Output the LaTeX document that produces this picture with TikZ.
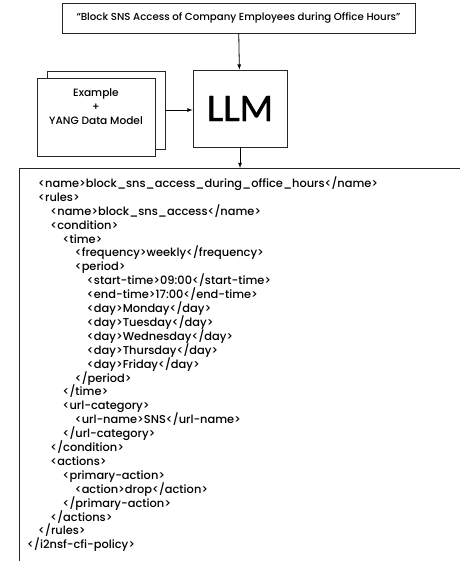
\documentclass[tikz,border=0pt]{standalone}
\usepackage{fontspec}
\setmainfont{Poppins Medium}
\newfontfamily\llmfont{Carlito}[FakeBold=1.2]
\usetikzlibrary{shapes,arrows,positioning}
\tikzstyle{box}=[rectangle,draw=black!85,line width=0.8pt,fill=white,inner sep=0pt]
\tikzstyle{doc}=[box,minimum width=118pt,minimum height=78pt]
\tikzstyle{arr}=[-latex,line width=0.8pt]
\tikzstyle{xml}=[anchor=north west,align=left,inner sep=0pt,font=\fontsize{11.4}{13.9}\selectfont]
\newcommand{\ind}[1]{\hspace*{#1\dimexpr 12.2pt\relax}}

\begin{document}
\begin{tikzpicture}[x=1pt,y=-1pt]
\useasboundingbox (0,0) rectangle (459,561);
% request and model
\node[box,minimum width=353pt,minimum height=30pt,font=\fontsize{10.2}{11}\selectfont] (req) at (238.5,18) {“Block SNS Access of Company Employees during Office Hours”};
\node[box,minimum width=94pt,minimum height=77pt,font=\llmfont\fontsize{39}{39}\selectfont] (llm) at (240,108.5) {LLM};
% stacked input documents
\node[doc] (exback) at (106,110) {};
\node[doc] (ex) at (96,117) {};
\node[align=center,font=\fontsize{10.6}{14}\selectfont] (extext) at (96,107) {Example\\+\\YANG Data Model};
% generated policy
\node[box,anchor=north west,minimum width=470pt,minimum height=420pt] (out) at (19,168) {};
\node[xml] (code) at (27,176.5) {%
\ind{0.9}<name>block\_sns\_access\_during\_office\_hours</name>\\
\ind{0.9}<rules>\\
\ind{1.9}<name>block\_sns\_access</name>\\
\ind{1.9}<condition>\\
\ind{2.9}<time>\\
\ind{3.9}<frequency>weekly</frequency>\\
\ind{3.9}<period>\\
\ind{4.9}<start-time>09:00</start-time>\\
\ind{4.9}<end-time>17:00</end-time>\\
\ind{4.9}<day>Monday</day>\\
\ind{4.9}<day>Tuesday</day>\\
\ind{4.9}<day>Wednesday</day>\\
\ind{4.9}<day>Thursday</day>\\
\ind{4.9}<day>Friday</day>\\
\ind{3.9}</period>\\
\ind{2.9}</time>\\
\ind{2.9}<url-category>\\
\ind{3.9}<url-name>SNS</url-name>\\
\ind{2.9}</url-category>\\
\ind{1.9}</condition>\\
\ind{1.9}<actions>\\
\ind{2.9}<primary-action>\\
\ind{3.9}<action>drop</action>\\
\ind{2.9}</primary-action>\\
\ind{1.9}</actions>\\
\ind{0.9}</rules>\\
</i2nsf-cfi-policy>};
\draw[arr] (req) -- (llm);
\draw[arr] (exback.east) -- (exback.east -| llm.west);
\draw[arr] (llm.south) -- (llm.south |- out.north);
\end{tikzpicture}
\end{document}
